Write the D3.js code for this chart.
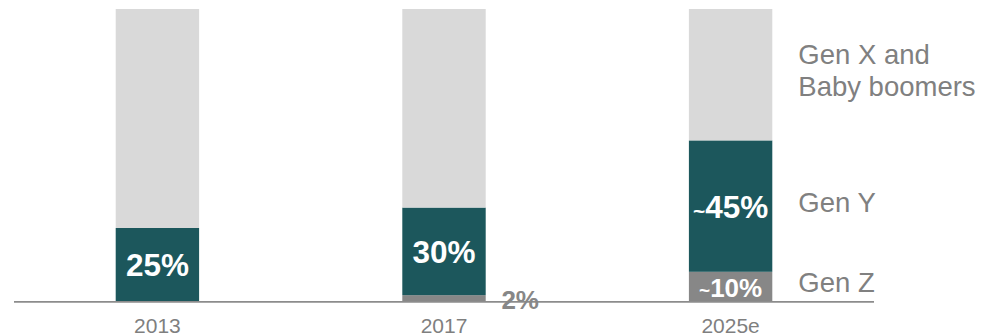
<!DOCTYPE html>
<html>
<head>
<meta charset="utf-8">
<script src="https://cdn.jsdelivr.net/npm/d3@7"></script>
<style>
  body { margin: 0; background: #fff; }
  svg { display: block; font-family: "Liberation Sans", Arial, sans-serif; }
</style>
</head>
<body>
<svg id="chart" width="982" height="335"></svg>
<script>
// chart values
var years = ['2013', '2017', '2025e'];
var genZ = [0, 2, 10];
var genY = [25, 30, 45];
var genX = [75, 68, 45];
var genYLabels = ['25%', '30%', '~45%'];
var genZLabels = ['', '2%', '~10%'];
var seriesKeys = ['genZ', 'genY', 'genX'];
var legendLabels = { genZ: ['Gen Z'], genY: ['Gen Y'], genX: ['Gen X and', 'Baby boomers'] };

var colors = { genZ: '#878787', genY: '#1c575c', genX: '#d9d9d9' };

var rows = years.map(function (y, i) {
  return { year: y, genZ: genZ[i], genY: genY[i], genX: genX[i] };
});

var svg = d3.select('#chart');

var x = d3.scaleBand().domain(years).range([115.7, 772.3]).paddingInner(0.709).paddingOuter(0);
var y = d3.scaleLinear().domain([0, 100]).range([301, 9]);

var stacked = d3.stack().keys(seriesKeys)(rows);

// bars
var layers = svg.selectAll('.layer').data(stacked).enter()
  .append('g').attr('class', 'layer')
  .attr('fill', function (d) { return colors[d.key]; });

layers.selectAll('rect').data(function (d) { return d; }).enter()
  .append('rect')
  .attr('x', function (d) { return x(d.data.year); })
  .attr('width', x.bandwidth())
  .attr('y', function (d) { return y(d[1]); })
  .attr('height', function (d) { return y(d[0]) - y(d[1]); });

// baseline
svg.append('line')
  .attr('x1', 14).attr('x2', 874)
  .attr('y1', y(0) + 0.8).attr('y2', y(0) + 0.8)
  .attr('stroke', '#8c8c8c').attr('stroke-width', 1.8);

// year labels
svg.selectAll('.year').data(years).enter()
  .append('text').attr('class', 'year')
  .attr('x', function (d) { return x(d) + x.bandwidth() / 2; })
  .attr('y', 333)
  .attr('text-anchor', 'middle')
  .attr('font-size', 21)
  .attr('fill', '#7f7f7f')
  .text(function (d) { return d; });

// value labels, tilde drawn smaller
function addValue(sel, label, tildeSize) {
  if (label.charAt(0) === '~') {
    sel.append('tspan').attr('font-size', tildeSize).text('~');
    sel.append('tspan').text(label.slice(1));
  } else {
    sel.text(label);
  }
}

var yLayer = stacked[1];
yLayer.forEach(function (d, i) {
  var mid = (y(d[0]) + y(d[1])) / 2;
  var t = svg.append('text')
    .attr('x', x(d.data.year) + x.bandwidth() / 2)
    .attr('y', mid + 11.8)
    .attr('text-anchor', 'middle')
    .attr('font-size', 31.5).attr('font-weight', 'bold')
    .attr('fill', '#fff');
  addValue(t, genYLabels[i], 21);
});

var zLayer = stacked[0];
zLayer.forEach(function (d, i) {
  var label = genZLabels[i];
  if (!label) return;
  var t = svg.append('text')
    .attr('font-size', 26).attr('font-weight', 'bold')
    .attr('text-anchor', 'middle');
  if (y(d[0]) - y(d[1]) > 20) {
    // label fits inside the segment
    t.attr('x', x(d.data.year) + x.bandwidth() / 2)
      .attr('y', (y(d[0]) + y(d[1])) / 2 + 10.5)
      .attr('fill', '#fff');
  } else {
    t.attr('x', x(d.data.year) + x.bandwidth() + 34.5)
      .attr('y', y(0) + 7.5)
      .attr('fill', '#878787');
  }
  addValue(t, label, 19);
});

// legend beside the last bar
var lastYear = years[years.length - 1];
var legendX = x(lastYear) + x.bandwidth() + 26;
stacked.forEach(function (layer) {
  var d = layer[layer.length - 1];
  var mid = (y(d[0]) + y(d[1])) / 2;
  var lines = legendLabels[layer.key];
  var lead = 32;
  var first = mid - 4.2 + 9.8 - (lines.length - 1) * lead / 2;
  var t = svg.append('text')
    .attr('font-size', 27.5)
    .attr('fill', '#808080');
  lines.forEach(function (ln, j) {
    t.append('tspan').attr('x', legendX).attr('y', first + j * lead).text(ln);
  });
});
</script>
</body>
</html>
